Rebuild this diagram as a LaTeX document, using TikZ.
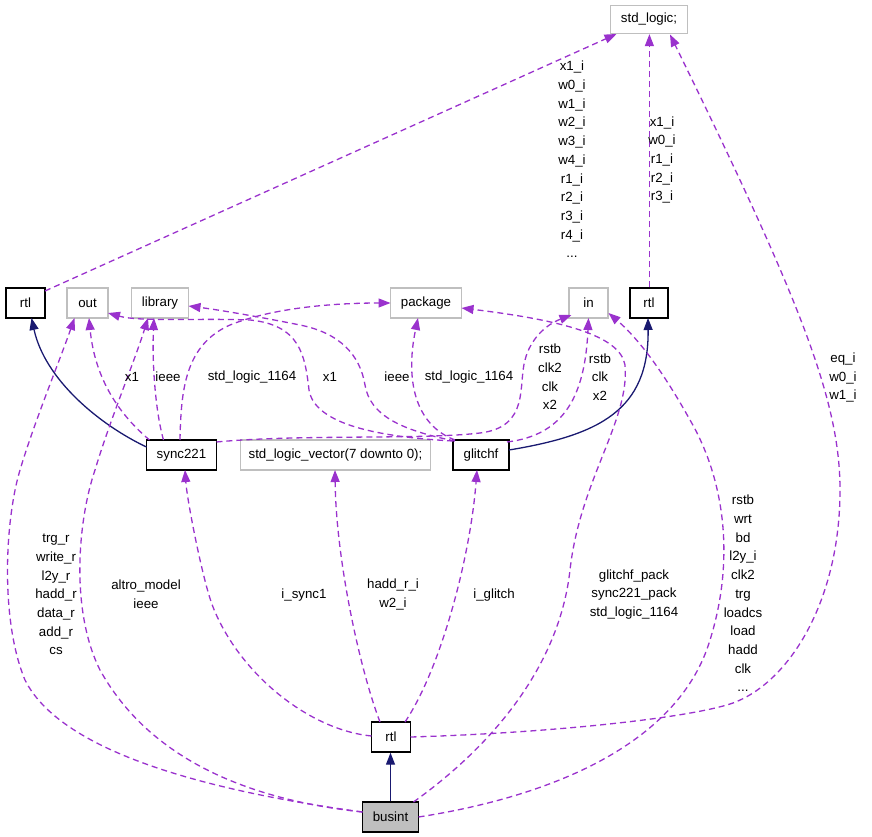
\documentclass[tikz,border=0pt]{standalone}
\usepackage{fontspec}
\setmainfont{Liberation Sans}
\usetikzlibrary{arrows.meta,calc}
\definecolor{edgepurple}{HTML}{9A32CD}
\definecolor{edgenavy}{HTML}{191970}
\definecolor{boxgray}{HTML}{BFBFBF}
\begin{document}
\begin{tikzpicture}[x=1pt,y=-1pt,
  every node/.style={font=\fontsize{13.3}{18.7}\selectfont},
  box/.style={draw=black, line width=1.4pt, rectangle, inner sep=0pt, minimum height=30pt},
  gbox/.style={draw=boxgray, line width=1.3pt, rectangle, inner sep=0pt, minimum height=30pt},
  dep/.style={draw=edgepurple, line width=1.3pt, dash pattern=on 6pt off 4pt, -{Triangle[length=12pt,width=9pt]}},
  inh/.style={draw=edgenavy, line width=1.3pt, -{Triangle[length=12pt,width=9pt]}},
  lbl/.style={align=center, inner sep=0pt}
]
\useasboundingbox (0,0) rectangle (872,837);

% nodes
\node[gbox, minimum width=77pt, minimum height=28pt] (stdl) at (649,19.5) {std\_logic;};
\node[box, minimum width=39pt] (rtlL) at (25.5,303) {rtl};
\node[gbox, minimum width=41pt] (out) at (87.5,303) {out};
\node[gbox, minimum width=57pt] (lib) at (160,303) {library};
\node[gbox, minimum width=71pt] (pkg) at (426,303) {package};
\node[gbox, minimum width=39pt] (in) at (588.5,303) {in};
\node[box, minimum width=38pt] (rtlR) at (649,303) {rtl};
\node[box, minimum width=70pt] (sync) at (181.5,455) {sync221};
\node[gbox, minimum width=190pt] (slv) at (335.5,455) {std\_logic\_vector(7 downto 0);};
\node[box, minimum width=56pt] (glitch) at (481,455) {glitchf};
\node[box, minimum width=39pt] (rtlB) at (391,737) {rtl};
\node[box, fill=boxgray, minimum width=56pt] (busint) at (390.5,817) {busint};

% inheritance
\draw[inh] (busint.north) -- (busint.north |- rtlB.south);
\draw[inh] ($(sync)+(-35,-8)$) .. controls (100,425) and (45,380) .. ($(rtlL)+(6,15)$);
\draw[inh] ($(glitch)+(28,-5)$) .. controls (600,435) and (649,410) .. ($(rtlR)+(-1,15)$);

% rtl (left) -> std_logic;
\draw[dep] ($(rtlL)+(19.5,-12)$) -- ($(stdl)+(-32.5,14.5)$);
\node[lbl] (l1) at (572,159.5) {x1\_i\\w0\_i\\w1\_i\\w2\_i\\w3\_i\\w4\_i\\r1\_i\\r2\_i\\r3\_i\\r4\_i\\...};

% rtl (right) -> std_logic;
\draw[dep] ($(rtlR.north)+(0.4,0)$) -- ($(stdl.south)+(0.4,0)$);
\node[lbl] (l2) at (662,160) {x1\_i\\w0\_i\\r1\_i\\r2\_i\\r3\_i};

% rtl (bottom) -> std_logic;
\draw[dep] ($(rtlB)+(19.5,0)$) .. controls (550,733) and (690,718) .. (733,703) .. controls (790,682) and (840,600) .. (840,490) .. controls (840,400) and (800,300) .. ($(stdl)+(21,15)$);
\node[lbl] (l3) at (843,377.5) {eq\_i\\w0\_i\\w1\_i};

% busint -> in
\draw[dep] ($(busint)+(28,0)$) .. controls (560,795) and (680,740) .. (710,640) .. controls (735,560) and (725,480) .. (690,420) .. controls (665,375) and (640,340) .. ($(in)+(20,10)$);
\node[lbl] (l4) at (743,593.5) {rstb\\wrt\\bd\\l2y\_i\\clk2\\trg\\loadcs\\load\\hadd\\clk\\...};

% busint -> package
\draw[dep] ($(busint)+(23,-15)$) .. controls (500,740) and (560,660) .. (570,570) .. controls (580,480) and (630,420) .. (625,365) .. controls (620,335) and (560,320) .. ($(pkg)+(35.5,5)$);
\node[lbl] (l5) at (634,594.5) {glitchf\_pack\\sync221\_pack\\std\_logic\_1164};

% busint -> out
\draw[dep] ($(busint)+(-28,-5)$) .. controls (200,790) and (60,750) .. (25,680) .. controls (0,620) and (5,520) .. (20,470) .. controls (35,420) and (60,360) .. ($(out)+(-13,15)$);
\node[lbl] (l6) at (56,594.5) {trg\_r\\write\_r\\l2y\_r\\hadd\_r\\data\_r\\add\_r\\cs};

% busint -> library
\draw[dep] ($(busint)+(-28,-5)$) .. controls (250,800) and (150,760) .. (100,670) .. controls (70,610) and (78,520) .. (95,470) .. controls (110,420) and (135,360) .. ($(lib)+(-12,15)$);
\node[lbl] (l7) at (146,594.5) {altro\_model\\ieee};

% rtl (bottom) -> sync221
\draw[dep] ($(rtlB)+(-19.5,-1)$) .. controls (310,730) and (240,675) .. (213,607) .. controls (203,582) and (187,500) .. ($(sync)+(3.5,15)$);
\node[lbl] (l8) at (304,595) {i\_sync1};

% rtl (bottom) -> std_logic_vector
\draw[dep] ($(rtlB)+(-11,-15)$) .. controls (360,670) and (336,560) .. ($(slv)+(-0.5,15)$);
\node[lbl] (l9) at (393,594.5) {hadd\_r\_i\\w2\_i};

% rtl (bottom) -> glitchf
\draw[dep] ($(rtlB)+(14,-15)$) .. controls (440,670) and (470,560) .. ($(glitch)+(-4,15)$);
\node[lbl] (l10) at (494,595) {i\_glitch};

% sync221 -> out / library / package / in
\draw[dep] ($(sync)+(-32,-15)$) .. controls (120,415) and (95,380) .. ($(out)+(1.5,15)$);
\node[lbl] (l11) at (132,377) {x1};
\draw[dep] ($(sync)+(-18,-15)$) .. controls (155,410) and (152,360) .. ($(lib)+(-6,15)$);
\node[lbl] (l12) at (168,377) {ieee};
\draw[dep] ($(sync)+(-1.5,-15)$) .. controls (181,390) and (185,345) .. (230,325) .. controls (280,305) and (350,303) .. ($(pkg)+(-35.5,0)$);
\node[lbl] (l13) at (252,377) {std\_logic\_1164};
\draw[dep] ($(sync)+(35,-13)$) .. controls (300,434) and (420,440) .. (480,433) .. controls (530,427) and (518,385) .. (525,360) .. controls (530,340) and (545,325) .. ($(in)+(-17,12)$);
\node[lbl] (l14) at (550,377) {rstb\\clk2\\clk\\x2};

% glitchf -> out / library / package / in
\draw[dep] ($(glitch)+(-28,-14)$) .. controls (380,437) and (315,425) .. (309,390) .. controls (305,355) and (300,325) .. (250,320) .. controls (200,318) and (140,322) .. ($(out)+(20.5,10)$);
\node[lbl] (l15) at (330,377) {x1};
\draw[dep] ($(glitch)+(-26,-14)$) .. controls (400,430) and (370,415) .. (365,385) .. controls (360,355) and (340,333) .. (300,325) .. controls (260,317) and (220,310) .. ($(lib)+(28.5,3)$);
\node[lbl] (l16) at (397,377) {ieee};
\draw[dep] ($(glitch)+(-26,-15)$) .. controls (415,425) and (405,380) .. ($(pkg)+(-8,15)$);
\node[lbl] (l17) at (469,377) {std\_logic\_1164};
\draw[dep] ($(glitch)+(26,-13)$) .. controls (565,435) and (585,395) .. ($(in)+(0,15)$);
\node[lbl] (l18) at (600,377) {rstb\\clk\\x2};
\end{tikzpicture}
\end{document}
